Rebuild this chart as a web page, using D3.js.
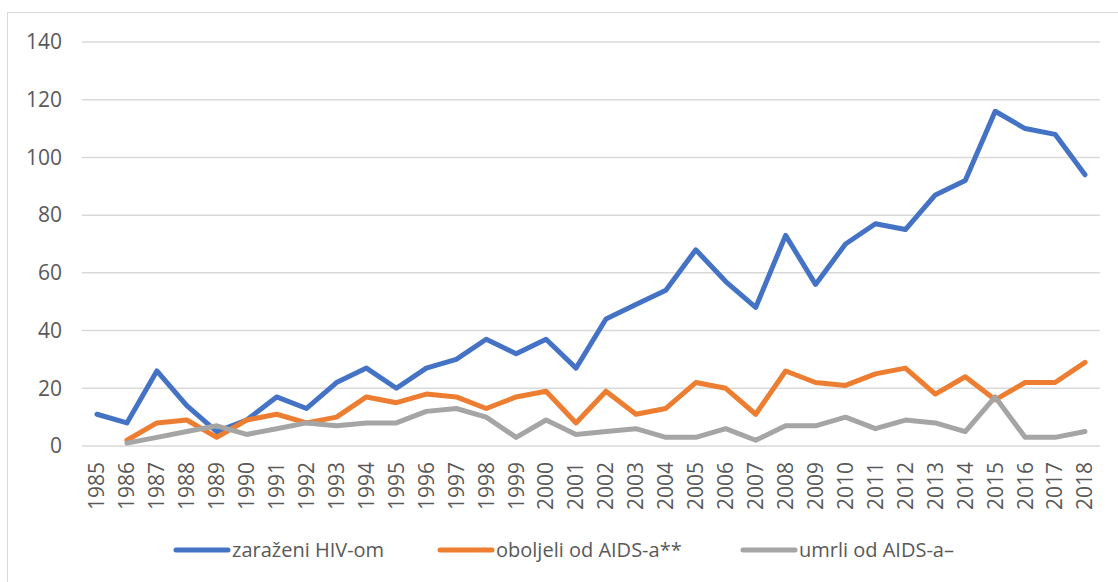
<!DOCTYPE html>
<html lang="hr">
<head>
<meta charset="UTF-8">
<script src="https://d3js.org/d3.v7.min.js"></script>
<style>
  body { margin: 0; background: #fff; }
  text { font-family: "Open Sans", sans-serif; fill: #595959; }
</style>
</head>
<body>
<div id="chart"></div>
<script>
// years on the category axis
var years = d3.range(1985, 2019).map(String);

// zaraženi HIV-om
var hiv = [11, 8, 26, 14, 5, 9, 17, 13, 22, 27, 20, 27, 30, 37, 32, 37, 27, 44, 49, 54,
           68, 57, 48, 73, 56, 70, 77, 75, 87, 92, 116, 110, 108, 94];
// oboljeli od AIDS-a (no value for 1985)
var aids = [null, 2, 8, 9, 3, 9, 11, 8, 10, 17, 15, 18, 17, 13, 17, 19, 8, 19, 11, 13,
            22, 20, 11, 26, 22, 21, 25, 27, 18, 24, 16, 22, 22, 29];
// umrli od AIDS-a (no value for 1985)
var deaths = [null, 1, 3, 5, 7, 4, 6, 8, 7, 8, 8, 12, 13, 10, 3, 9, 4, 5, 6, 3,
              3, 6, 2, 7, 7, 10, 6, 9, 8, 5, 17, 3, 3, 5];

var yTicks = [0, 20, 40, 60, 80, 100, 120, 140];

var series = [
  { name: "zaraženi HIV-om", values: hiv, color: "#4472C4" },
  { name: "oboljeli od AIDS-a**", values: aids, color: "#ED7D31" },
  { name: "umrli od AIDS-a–", values: deaths, color: "#A5A5A5" }
];

var W = 1118, H = 582;
var svg = d3.select("#chart").append("svg")
  .attr("width", W).attr("height", H);

// chart frame
svg.append("rect")
  .attr("x", 7.5).attr("y", 12.5)
  .attr("width", W + 20).attr("height", H + 20)
  .attr("fill", "none").attr("stroke", "#d9d9d9").attr("stroke-width", 1);

var x = d3.scaleBand().domain(years).range([82, 1100]);
var y = d3.scaleLinear().domain([0, 140]).range([446, 42]);

// gridlines
svg.append("g").selectAll("line")
  .data(yTicks).enter().append("line")
    .attr("x1", 82).attr("x2", 1100)
    .attr("y1", function(d) { return y(d); })
    .attr("y2", function(d) { return y(d); })
    .attr("stroke", "#d9d9d9").attr("stroke-width", 1.5);

// y tick labels
svg.append("g").selectAll("text")
  .data(yTicks).enter().append("text")
    .attr("x", 62)
    .attr("y", function(d) { return y(d); })
    .attr("dy", "0.35em")
    .attr("text-anchor", "end")
    .style("font-size", "21px")
    .text(function(d) { return d; });

// x tick labels, rotated
svg.append("g").selectAll("text")
  .data(years).enter().append("text")
    .attr("transform", function(d) {
      return "translate(" + (x(d) + x.bandwidth() / 2) + ",462) rotate(-90)";
    })
    .attr("dy", "0.35em")
    .attr("text-anchor", "end")
    .style("font-size", "21px")
    .text(function(d) { return d; });

// lines
var line = d3.line()
  .defined(function(d) { return d != null; })
  .x(function(d, i) { return x(years[i]) + x.bandwidth() / 2; })
  .y(function(d) { return y(d); });

svg.append("g").selectAll("path")
  .data(series).enter().append("path")
    .attr("d", function(s) { return line(s.values); })
    .attr("fill", "none")
    .attr("stroke", function(s) { return s.color; })
    .attr("stroke-width", 5)
    .attr("stroke-linejoin", "round")
    .attr("stroke-linecap", "round");

// legend
var legendX = [176, 440, 743];
var legend = svg.append("g").selectAll("g")
  .data(series).enter().append("g")
    .attr("transform", function(s, i) { return "translate(" + legendX[i] + ",550)"; });

legend.append("line")
  .attr("x1", 0).attr("x2", 52)
  .attr("stroke", function(s) { return s.color; })
  .attr("stroke-width", 5)
  .attr("stroke-linecap", "round");

legend.append("text")
  .attr("x", 56)
  .attr("dy", "0.35em")
  .style("font-size", "20px")
  .text(function(s) { return s.name; });
</script>
</body>
</html>
